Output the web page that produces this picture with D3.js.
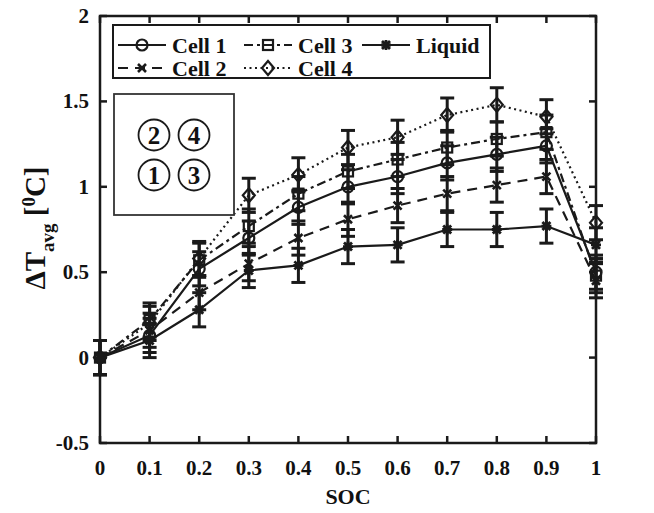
<!DOCTYPE html>
<html><head><meta charset="utf-8">
<script src="https://cdn.jsdelivr.net/npm/d3@7"></script>
<style>body{margin:0;background:#fff}svg{display:block}text{font-family:"Liberation Serif","Times New Roman",serif;font-weight:bold;fill:#111}</style>
</head><body>
<svg id="c" width="654" height="513"></svg>
<script>
const soc = [0,0.1,0.2,0.3,0.4,0.5,0.6,0.7,0.8,0.9,1.0];
const cell1 = [0,0.13,0.52,0.70,0.88,1.00,1.06,1.14,1.19,1.24,0.50];
const cell2 = [0,0.16,0.38,0.55,0.70,0.81,0.89,0.96,1.01,1.06,0.45];
const cell3 = [0,0.22,0.57,0.77,0.96,1.09,1.16,1.23,1.28,1.32,0.48];
const cell4 = [0,0.20,0.58,0.95,1.07,1.23,1.29,1.42,1.48,1.41,0.79];
const liquid = [0,0.10,0.28,0.51,0.54,0.65,0.66,0.75,0.75,0.77,0.66];
const errs = [0.1,0.1,0.1,0.1,0.1,0.1,0.1,0.1,0.1,0.1,0.1];
const xTicks = [0,0.1,0.2,0.3,0.4,0.5,0.6,0.7,0.8,0.9,1];
const yTicks = [-0.5,0,0.5,1,1.5,2];
const xTickLabels = ["0","0.1","0.2","0.3","0.4","0.5","0.6","0.7","0.8","0.9","1"];
const yTickLabels = ["-0.5","0","0.5","1","1.5","2"];

const svg = d3.select("#c");
const L=100,R=596,T=16,B=443;
const x = d3.scaleLinear().domain([0,1]).range([L,R]);
const y = d3.scaleLinear().domain([-0.5,2]).range([B,T]);
const ink="#1a1a1a";

const series = [
  {name:"Cell 1", v:cell1, dash:null, m:"circle"},
  {name:"Cell 2", v:cell2, dash:"10,7", m:"x"},
  {name:"Cell 3", v:cell3, dash:"9,4,3,4", m:"square"},
  {name:"Cell 4", v:cell4, dash:"2,3.5", m:"diamond"},
  {name:"Liquid", v:liquid, dash:null, m:"star"}
];

function marker(g,type,cx,cy){
  if(type==="circle") g.append("circle").attr("cx",cx).attr("cy",cy).attr("r",5.5).attr("fill","none").attr("stroke",ink).attr("stroke-width",2.2);
  else if(type==="square") g.append("rect").attr("x",cx-5).attr("y",cy-5).attr("width",10).attr("height",10).attr("fill","none").attr("stroke",ink).attr("stroke-width",2.2);
  else if(type==="diamond") g.append("path").attr("d",`M${cx},${cy-7}L${cx+6},${cy}L${cx},${cy+7}L${cx-6},${cy}Z`).attr("fill","none").attr("stroke",ink).attr("stroke-width",2.2);
  else if(type==="x") g.append("path").attr("d",`M${cx-4},${cy-4}L${cx+4},${cy+4}M${cx-4},${cy+4}L${cx+4},${cy-4}`).attr("stroke",ink).attr("stroke-width",2.6);
  else if(type==="star") g.append("path").attr("d",`M${cx-5},${cy}L${cx+5},${cy}M${cx},${cy-5}L${cx},${cy+5}M${cx-4},${cy-4}L${cx+4},${cy+4}M${cx-4},${cy+4}L${cx+4},${cy-4}`).attr("stroke",ink).attr("stroke-width",2.8);
}

// axes box
const ax = svg.append("g");
ax.append("rect").attr("x",L).attr("y",T).attr("width",R-L).attr("height",B-T).attr("fill","none").attr("stroke",ink).attr("stroke-width",2.5);
xTicks.forEach((t,i)=>{
  ax.append("line").attr("x1",x(t)).attr("x2",x(t)).attr("y1",B).attr("y2",B-7).attr("stroke",ink).attr("stroke-width",2.5);
  ax.append("line").attr("x1",x(t)).attr("x2",x(t)).attr("y1",T).attr("y2",T+7).attr("stroke",ink).attr("stroke-width",2.5);
  ax.append("text").attr("x",x(t)).attr("y",B+32).attr("text-anchor","middle").attr("font-size",21).text(xTickLabels[i]);
});
yTicks.forEach((t,i)=>{
  ax.append("line").attr("x1",L).attr("x2",L+7).attr("y1",y(t)).attr("y2",y(t)).attr("stroke",ink).attr("stroke-width",2.5);
  ax.append("line").attr("x1",R).attr("x2",R-7).attr("y1",y(t)).attr("y2",y(t)).attr("stroke",ink).attr("stroke-width",2.5);
  ax.append("text").attr("x",L-11).attr("y",y(t)+7).attr("text-anchor","end").attr("font-size",21).text(yTickLabels[i]);
});
svg.append("text").attr("x",(L+R)/2).attr("y",504).attr("text-anchor","middle").attr("font-size",22).text("SOC");
const yl = svg.append("text").attr("transform","translate(45,228) rotate(-90)").attr("text-anchor","middle").attr("font-size",29);
yl.append("tspan").text("ΔT");
yl.append("tspan").attr("font-size",19).attr("dy",9).text("avg");
yl.append("tspan").attr("dy",-9).text(" [");
yl.append("tspan").attr("font-size",19).attr("dy",-10).text("0");
yl.append("tspan").attr("dy",10).text("C]");

// data
const plot = svg.append("g");
series.forEach(s=>{
  const line = d3.line().x((d,i)=>x(soc[i])).y(d=>y(d));
  plot.append("path").datum(s.v).attr("d",line).attr("fill","none").attr("stroke",ink).attr("stroke-width",2.2).attr("stroke-dasharray",s.dash);
});
series.forEach(s=>{
  s.v.forEach((v,i)=>{
    const cx=x(soc[i]);
    const y1=y(v-errs[i]), y2=y(v+errs[i]);
    plot.append("line").attr("x1",cx).attr("x2",cx).attr("y1",y1).attr("y2",y2).attr("stroke",ink).attr("stroke-width",3);
    [y1,y2].forEach(yy=>plot.append("line").attr("x1",cx-7).attr("x2",cx+7).attr("y1",yy).attr("y2",yy).attr("stroke",ink).attr("stroke-width",3));
  });
});
series.forEach(s=>{
  s.v.forEach((v,i)=>marker(plot,s.m,x(soc[i]),y(v)));
});

// legend
const lg = svg.append("g");
lg.append("rect").attr("x",113).attr("y",25).attr("width",377).attr("height",53).attr("fill","#fff").attr("stroke",ink).attr("stroke-width",2);
const legPos = [
  {s:series[0],x:118,y:45},{s:series[2],x:244,y:45},{s:series[4],x:362,y:45},
  {s:series[1],x:118,y:68},{s:series[3],x:244,y:68}
];
legPos.forEach(p=>{
  lg.append("line").attr("x1",p.x).attr("x2",p.x+48).attr("y1",p.y).attr("y2",p.y).attr("stroke",ink).attr("stroke-width",2.2).attr("stroke-dasharray",p.s.dash);
  marker(lg,p.s.m,p.x+24,p.y);
  lg.append("text").attr("x",p.x+54).attr("y",p.y+8).attr("font-size",22).text(p.s.name);
});

// inset
const inset = svg.append("g");
inset.append("rect").attr("x",114).attr("y",94).attr("width",120).attr("height",121).attr("fill","#fff").attr("stroke","#333").attr("stroke-width",1.8);
const cellsLayout = [{n:"2",cx:154,cy:135},{n:"4",cx:194,cy:135},{n:"1",cx:154,cy:175},{n:"3",cx:194,cy:175}];
cellsLayout.forEach(c=>{
  inset.append("circle").attr("cx",c.cx).attr("cy",c.cy).attr("r",15.5).attr("fill","none").attr("stroke",ink).attr("stroke-width",1.8);
  inset.append("text").attr("x",c.cx).attr("y",c.cy+9).attr("text-anchor","middle").attr("font-size",25).attr("font-weight","normal").text(c.n);
});
</script>
</body></html>
